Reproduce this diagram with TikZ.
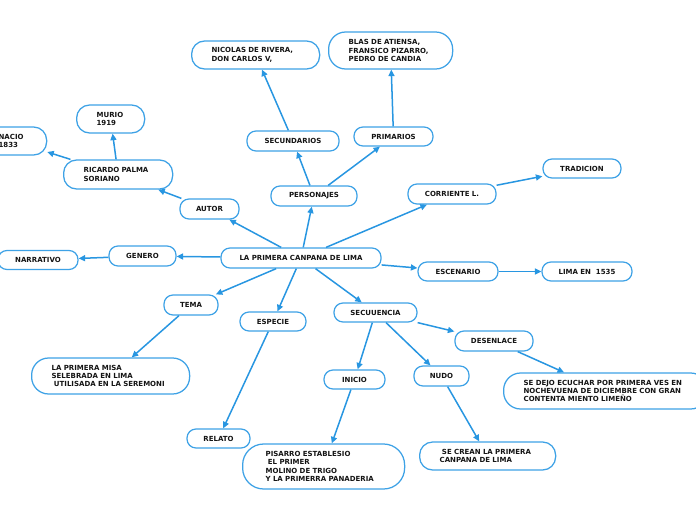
\documentclass[tikz,border=0pt]{standalone}
\usepackage{fontspec}
\setmainfont{DejaVu Sans}
\usetikzlibrary{arrows.meta}
\definecolor{bordc}{RGB}{62,162,230}
\definecolor{linec}{RGB}{40,150,225}
\definecolor{txtc}{RGB}{20,20,20}
\tikzset{
  box/.style={draw=bordc, line width=1.25pt, fill=white, text=txtc,
    font=\fontsize{7}{8.3}\selectfont\bfseries, inner sep=0pt,
    rounded corners=9pt, minimum height=20pt},
  mbox/.style n args={3}{box, anchor=west, text width=#1pt-40pt, minimum width=#1pt,
    inner xsep=20pt, align=left, minimum height=#2pt, rounded corners=#3pt},
  arr/.style={draw=linec, line width=1.5pt, -{Triangle[length=6.5pt,width=6pt]}}
}
\begin{document}
\begin{tikzpicture}[x=1pt,y=-1pt]
\useasboundingbox (0,0) rectangle (696,520);
% single-line nodes
\node[box, minimum width=160pt] (main) at (301,258) {LA PRIMERA CANPANA DE LIMA};
\node[box, minimum width=59pt] (autor) at (209.5,209) {AUTOR};
\node[box, minimum width=92pt] (secund) at (293,141) {SECUNDARIOS};
\node[box, minimum width=79pt, minimum height=19pt] (primar) at (393.5,136.5) {PRIMARIOS};
\node[box, minimum width=86pt] (person) at (314,196) {PERSONAJES};
\node[box, minimum width=88pt] (corr) at (452,194) {CORRIENTE L.};
\node[box, minimum width=78pt, minimum height=19pt] (trad) at (582,168.5) {TRADICION};
\node[box, minimum width=67pt] (genero) at (142.5,256) {GENERO};
\node[box, minimum width=80pt, minimum height=19pt] (narr) at (38,260) {NARRATIVO};
\node[box, minimum width=80pt, minimum height=19pt] (escen) at (458,271.5) {ESCENARIO};
\node[box, minimum width=90pt, minimum height=19pt] (lima) at (587,271.5) {LIMA EN\ \ 1535};
\node[box, minimum width=54pt] (tema) at (191,305) {TEMA};
\node[box, minimum width=66pt, minimum height=19pt] (especie) at (273,321.5) {ESPECIE};
\node[box, minimum width=83pt, minimum height=19pt] (secuen) at (375.5,312.5) {SECUUENCIA};
\node[box, minimum width=78pt] (desen) at (494,341) {DESENLACE};
\node[box, minimum width=61pt, minimum height=19pt] (inicio) at (354.5,379.5) {INICIO};
\node[box, minimum width=55pt] (nudo) at (441.5,376) {NUDO};
\node[box, minimum width=63pt, minimum height=19pt] (relato) at (218.5,438.5) {RELATO};
% multi-line nodes
\node[mbox={68}{28}{13}] (nacio) at (-22,141) {NACIO\\1833};
\node[mbox={68}{28}{13}] (murio) at (76,119) {MURIO\\1919};
\node[mbox={109}{29}{13}] (ricardo) at (63,174.5) {RICARDO PALMA\\SORIANO};
\node[mbox={128}{28}{13}] (nicolas) at (191,55) {NICOLAS DE RIVERA,\\DON CARLOS V,};
\node[mbox={124}{37}{17}] (blas) at (328,50.5) {BLAS DE ATIENSA,\\FRANSICO PIZARRO,\\PEDRO DE CANDIA};
\node[mbox={158}{36}{17}] (misa) at (31,376) {LA PRIMERA MISA\\SELEBRADA EN LIMA\\\ UTILISADA EN LA SEREMONI};
\node[mbox={204}{36}{17}] (sedejo) at (503,391) {SE DEJO ECUCHAR POR PRIMERA VES EN\\NOCHEVUENA DE DICIEMBRE CON GRAN\\CONTENTA MIENTO LIMEÑO};
\node[mbox={162}{45}{21}] (pisarro) at (242,466.5) {\hspace*{3pt}PISARRO ESTABLESIO\\\hspace*{3pt}\ EL PRIMER\\\hspace*{3pt}MOLINO DE TRIGO\\\hspace*{3pt}Y LA PRIMERRA PANADERIA};
\node[mbox={136}{28}{13}] (secrean) at (419,456) {\ SE CREAN LA PRIMERA\\CANPANA DE LIMA};
% connectors
\draw[arr] (main) -- (genero);
\draw[arr] (genero) -- (narr);
\draw[arr] (main) -- (autor);
\draw[arr] (autor) -- (ricardo);
\draw[arr] (ricardo) -- (nacio);
\draw[arr] (ricardo) -- (murio);
\draw[arr] (main) -- (person);
\draw[arr] (person) -- (secund);
\draw[arr] (person) -- (primar);
\draw[arr] (secund) -- (nicolas);
\draw[arr] (primar) -- (blas);
\draw[arr] (main) -- (corr);
\draw[arr] (corr) -- (trad);
\draw[arr] (main) -- (escen);
\draw[arr] (escen) -- (lima);
\draw[arr] (main) -- (tema);
\draw[arr] (tema) -- (misa);
\draw[arr] (main) -- (especie);
\draw[arr] (especie) -- (relato);
\draw[arr] (main) -- (secuen);
\draw[arr] (secuen) -- (inicio);
\draw[arr] (secuen) -- (nudo);
\draw[arr] (secuen) -- (desen);
\draw[arr] (desen) -- (sedejo);
\draw[arr] (inicio) -- (pisarro);
\draw[arr] (nudo) -- (secrean);
\end{tikzpicture}
\end{document}
